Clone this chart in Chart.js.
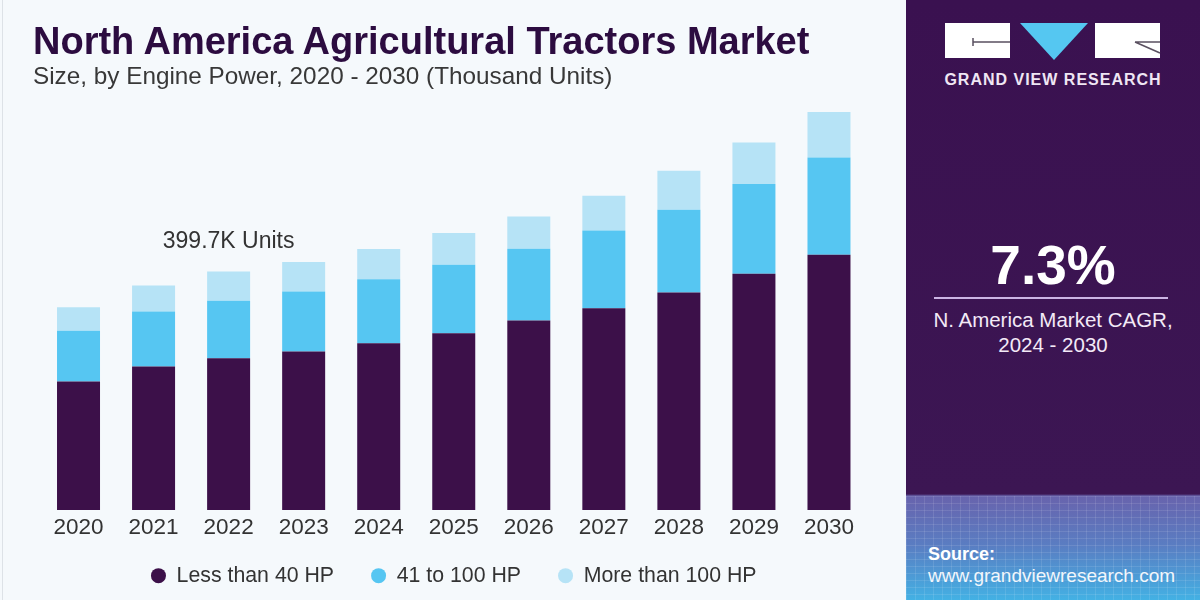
<!DOCTYPE html>
<html>
<head>
<meta charset="utf-8">
<script src="https://cdn.jsdelivr.net/npm/chart.js@4"></script>
<style>
  html, body { margin: 0; padding: 0; }
  body {
    width: 1200px; height: 600px; position: relative; overflow: hidden;
    background: #f5f9fc; font-family: 'Liberation Sans', Arial, sans-serif;
  }
  #edge { position: absolute; left: 2px; top: 0; width: 1px; height: 600px; background: #dde2e7; }
  #chart { position: absolute; left: 0; top: 0; }
  .txt { position: absolute; white-space: nowrap; line-height: 1; }
  #title { left: 33px; top: 22px; font-size: 38px; font-weight: bold; color: #2c0c40; }
  #subtitle { left: 33px; top: 64px; font-size: 24.3px; color: #383838; }
  #panel {
    position: absolute; left: 906px; top: 0; width: 294px; height: 600px;
    background: linear-gradient(to bottom, #3a1150 0px, #3c1653 494px, #6863ad 496px, #5a7dc2 545px, #43b1e4 600px);
  }
  #grid {
    position: absolute; left: 0; top: 496px; width: 294px; height: 104px;
    background:
      repeating-linear-gradient(to right, rgba(255,255,255,0.10) 0 1px, transparent 1px 9px),
      repeating-linear-gradient(to bottom, rgba(255,255,255,0.10) 0 1px, transparent 1px 7px);
  }
  #logo { position: absolute; left: 0; top: 0; }
  #brand { left: 0; width: 294px; text-align: center; top: 72px; font-size: 16px; font-weight: bold; color: #efe6f4; letter-spacing: 1px; }
  #cagr { left: 0; width: 294px; text-align: center; top: 238px; font-size: 55px; font-weight: bold; color: #ffffff; }
  #rule { position: absolute; left: 28px; top: 297px; width: 234px; height: 2px; background: #cbb4e4; }
  #cagrText { left: 0; width: 294px; text-align: center; top: 307px; font-size: 20.5px; line-height: 25px; color: #f3eaf7; }
  #source { left: 22px; top: 545px; font-size: 18px; font-weight: bold; color: #ffffff; }
  #url { left: 22px; top: 566px; font-size: 19px; color: #f2f6fb; }
</style>
</head>
<body>
<div id="edge"></div>
<canvas id="chart" width="906" height="616"></canvas>
<div class="txt" id="title">North America Agricultural Tractors Market</div>
<div class="txt" id="subtitle">Size, by Engine Power, 2020 - 2030 (Thousand Units)</div>

<div id="panel">
  <div id="grid"></div>
  <svg id="logo" width="294" height="70">
    <rect x="39" y="23" width="65" height="35" fill="#ffffff"/>
    <path d="M67 42 H104 M67 38 V46" stroke="#5a5060" stroke-width="1.5" fill="none"/>
    <polygon points="114,23 182,23 148,60" fill="#55c7f1"/>
    <rect x="189" y="23" width="65" height="35" fill="#ffffff"/>
    <path d="M229 42 H254 M229 42 L254 53" stroke="#5a5060" stroke-width="1.5" fill="none"/>
  </svg>
  <div class="txt" id="brand">GRAND VIEW RESEARCH</div>
  <div class="txt" id="cagr">7.3%</div>
  <div id="rule"></div>
  <div class="txt" id="cagrText">N. America Market CAGR,<br>2024 - 2030</div>
  <div class="txt" id="source">Source:</div>
  <div class="txt" id="url">www.grandviewresearch.com</div>
</div>

<script>
const years = ['2020', '2021', '2022', '2023', '2024', '2025', '2026', '2027', '2028', '2029', '2030'];
const seriesNames = ['Less than 40 HP', '41 to 100 HP', 'More than 100 HP'];
const lessThan40 = [253.0, 282.6, 299.1, 312.2, 328.7, 348.4, 373.3, 397.7, 428.5, 465.4, 502.8];
const from41to100 = [100.0, 108.5, 113.0, 118.3, 126.2, 134.7, 141.4, 153.0, 163.1, 176.9, 191.9];
const moreThan100 = [46.7, 51.3, 57.8, 58.0, 59.2, 62.5, 63.7, 68.4, 76.9, 82.0, 89.5];
const seriesColors = ['#3c1049', '#56c6f2', '#b6e3f6'];

const calloutText = '399.7K Units';
const calloutIndex = 2;
const calloutValue = 529;

const sans = "'Liberation Sans', Arial, sans-serif";

// total label over the chart
const calloutPlugin = {
  id: 'callout',
  afterDatasetsDraw(chart) {
    const ctx = chart.ctx;
    const x = chart.scales.x.getPixelForValue(calloutIndex);
    const y = chart.scales.y.getPixelForValue(calloutValue);
    ctx.save();
    ctx.font = '23px ' + sans;
    ctx.fillStyle = '#333333';
    ctx.textAlign = 'center';
    ctx.textBaseline = 'middle';
    ctx.fillText(calloutText, x, y);
    ctx.restore();
  }
};

// legend padding is wide sideways, pull the row up closer to the year labels
const legendLift = {
  id: 'legendLift',
  afterLayout(chart) {
    if (chart.legend) {
      chart.legend.top -= 17;
      chart.legend.bottom -= 17;
    }
  }
};

const data = {
  labels: years,
  datasets: [lessThan40, from41to100, moreThan100].map((values, i) => ({
    label: seriesNames[i],
    data: values,
    backgroundColor: seriesColors[i],
    borderWidth: 0,
    barPercentage: 0.573,
    categoryPercentage: 1
  }))
};

const config = {
  type: 'bar',
  data: data,
  options: {
    responsive: false,
    animation: false,
    layout: { padding: { top: 104, left: 41, right: 39.5, bottom: 2.7 } },
    plugins: {
      tooltip: { enabled: false },
      legend: {
        position: 'bottom',
        labels: {
          usePointStyle: true,
          pointStyle: 'circle',
          pointStyleWidth: 15,
          boxHeight: 10.6,
          padding: 37,
          color: '#333333',
          font: { family: sans, size: 21.3 }
        }
      }
    },
    scales: {
      x: {
        stacked: true,
        grid: { display: false, drawTicks: false },
        border: { display: false },
        ticks: {
          color: '#333333',
          padding: 4,
          maxRotation: 0,
          autoSkip: false,
          font: { family: sans, size: 22.5 }
        }
      },
      y: {
        stacked: true,
        display: false,
        min: 0,
        max: 800
      }
    }
  },
  plugins: [calloutPlugin, legendLift]
};

new Chart(document.getElementById('chart'), config);
</script>
</body>
</html>
